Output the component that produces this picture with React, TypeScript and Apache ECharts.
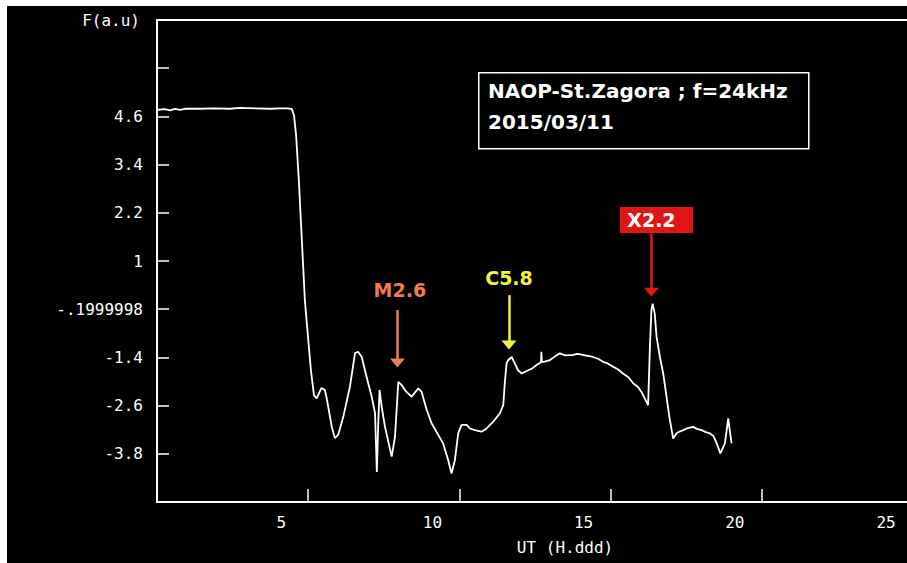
import React, { useEffect, useRef } from "react";
import * as echarts from "echarts";

// ---- data ----
const utHours = [
  0.0, 0.26, 0.43, 0.6, 0.76, 0.93, 1.42, 1.92, 2.41, 2.74, 3.24, 3.74, 4.07, 4.33, 4.46, 4.53, 4.6, 4.69, 4.79, 4.89,
  4.96, 5.09, 5.19, 5.28, 5.44, 5.55, 5.61, 5.78, 5.88, 5.99, 6.16, 6.38, 6.55, 6.65, 6.77, 6.93, 7.1, 7.21, 7.27, 7.32,
  7.36, 7.43, 7.54, 7.76, 7.87, 7.98, 8.09, 8.25, 8.42, 8.64, 8.75, 8.92, 9.08, 9.3, 9.46, 9.63, 9.74, 9.85, 9.96, 10.07,
  10.24, 10.35, 10.51, 10.73, 10.9, 11.12, 11.34, 11.45, 11.5, 11.56, 11.61, 11.73, 11.83, 11.94, 12.06, 12.27, 12.4,
  12.55, 12.7, 12.71, 12.73, 12.85, 12.99, 13.15, 13.32, 13.5, 13.76, 13.9, 14.09, 14.25, 14.42, 14.6, 14.75, 14.9,
  15.08, 15.25, 15.41, 15.6, 15.75, 15.9, 16.02, 16.24, 16.3, 16.35, 16.39, 16.46, 16.52, 16.63, 16.74, 16.85, 16.96,
  17.07, 17.18, 17.3, 17.4, 17.55, 17.73, 17.85, 18.01, 18.15, 18.28, 18.4, 18.51, 18.63, 18.78, 18.89, 18.94, 19.0,
];
const amplitude = [
  4.76, 4.78, 4.75, 4.79, 4.76, 4.79, 4.79, 4.8, 4.79, 4.81, 4.8, 4.79, 4.8, 4.8, 4.78, 4.63, 4.13, 3.01, 1.52, 0.02,
  -0.6, -1.72, -2.34, -2.42, -2.16, -2.21, -2.41, -3.13, -3.41, -3.33, -2.88, -2.13, -1.29, -1.26, -1.39, -1.88, -2.38,
  -2.79, -4.25, -2.96, -2.21, -2.63, -3.13, -3.87, -3.38, -2.01, -2.09, -2.26, -2.38, -2.17, -2.26, -2.71, -3.04, -3.33,
  -3.54, -3.96, -4.29, -3.96, -3.29, -3.08, -3.08, -3.17, -3.21, -3.25, -3.17, -3.0, -2.79, -2.59, -2.05, -1.55, -1.47,
  -1.39, -1.55, -1.72, -1.8, -1.72, -1.68, -1.59, -1.52, -1.26, -1.52, -1.5, -1.47, -1.38, -1.3, -1.35, -1.34, -1.31,
  -1.34, -1.36, -1.39, -1.44, -1.51, -1.55, -1.63, -1.7, -1.8, -1.9, -2.05, -2.13, -2.26, -2.59, -1.14, -0.22, -0.06,
  -0.31, -0.89, -1.39, -1.8, -2.38, -2.96, -3.42, -3.29, -3.24, -3.21, -3.16, -3.13, -3.18, -3.21, -3.26, -3.29, -3.36,
  -3.54, -3.79, -3.54, -2.92, -3.21, -3.54,
];

const xMin = 0;
const xMax = 25;
const xStep = 5;
const xTickLabels = ["", "5", "10", "15", "20", "25"];

const yMin = -5;
const yMax = 7;
const yStep = 1.2;
const yTickLabels = ["", "-3.8", "-2.6", "-1.4", "-.1999998", "1", "2.2", "3.4", "4.6", "", ""];

const flareNames = ["M2.6", "C5.8", "X2.2"];
const flareArrowX = [7.95, 11.64, 16.35];
const flareArrowFrom = [-0.22, 0.15, 1.69];
const flareArrowTo = [-1.54, -1.09, 0.22];
const flareLabelX = [8.03, 11.64, 16.35];
const flareLabelY = [0.27, 0.57, 2.02];

const yAxisTitle = "F(a.u)";
const xAxisTitle = "UT (H.ddd)";
const infoLines = ["NAOP-St.Zagora ; f=24kHz", "2015/03/11"];

// ---- styles ----
const flareColors = ["#f07c52", "#f2f23c", "#e31414"];
const flareTextColors = ["#f07c52", "#f2f23c", "#ffffff"];
const flareBoxed = [false, false, true];
const pixelFont = "DejaVu Sans Mono";
const sansFont = "DejaVu Sans";

export default function App() {
  const ref = useRef<HTMLDivElement>(null);

  useEffect(() => {
    if (!ref.current) return;
    const chart = echarts.init(ref.current, null, { renderer: "svg" });

    const seriesData = utHours.map((x, i) => [x, amplitude[i]]);

    const option: any = {
      animation: false,
      backgroundColor: "#000000",
      grid: {
        left: 150,
        top: 14,
        right: 0,
        bottom: 61,
        show: true,
        borderColor: "#ffffff",
        borderWidth: 2,
        backgroundColor: "transparent",
      },
      xAxis: {
        type: "value",
        min: xMin,
        max: xMax,
        interval: xStep,
        name: xAxisTitle,
        nameLocation: "middle",
        nameGap: 45,
        nameTextStyle: {
          color: "#ffffff",
          fontFamily: pixelFont,
          fontSize: 16,
          verticalAlign: "middle",
          padding: [0, 0, 0, 60],
        },
        axisLine: { show: true, onZero: false, lineStyle: { color: "#ffffff", width: 2 } },
        axisTick: { show: true, inside: true, length: 13, lineStyle: { color: "#ffffff", width: 1.5 } },
        splitLine: { show: false },
        axisLabel: {
          color: "#ffffff",
          fontFamily: pixelFont,
          fontSize: 16,
          margin: 12,
          showMinLabel: true,
          showMaxLabel: true,
          padding: [0, 54, 0, 0],
          formatter: (v: number) => xTickLabels[Math.round((v - xMin) / xStep)] ?? "",
        },
      },
      yAxis: {
        type: "value",
        min: yMin,
        max: yMax,
        interval: yStep,
        name: yAxisTitle,
        nameLocation: "end",
        nameGap: 0,
        nameTextStyle: {
          color: "#ffffff",
          fontFamily: pixelFont,
          fontSize: 16,
          align: "right",
          verticalAlign: "middle",
          padding: [0, 17, 0, 0],
        },
        axisLine: { show: true, onZero: false, lineStyle: { color: "#ffffff", width: 2 } },
        axisTick: { show: true, inside: true, length: 12, lineStyle: { color: "#ffffff", width: 1.5 } },
        splitLine: { show: false },
        axisLabel: {
          color: "#ffffff",
          fontFamily: pixelFont,
          fontSize: 16,
          margin: 14,
          showMinLabel: true,
          showMaxLabel: true,
          formatter: (v: number) => yTickLabels[Math.round((v - yMin) / yStep)] ?? "",
        },
      },
      series: [
        {
          type: "line",
          data: seriesData,
          showSymbol: false,
          symbol: "none",
          lineStyle: { color: "#ffffff", width: 1.8 },
          silent: true,
          markLine: {
            silent: true,
            animation: false,
            symbol: ["none", "triangle"],
            symbolSize: [15, 9],
            label: { show: false },
            data: flareNames.map((_, i) => [
              { coord: [flareArrowX[i], flareArrowFrom[i]], lineStyle: { color: flareColors[i], width: 2.5, type: "solid" } },
              { coord: [flareArrowX[i], flareArrowTo[i]] },
            ]),
          },
          markPoint: {
            silent: true,
            animation: false,
            data: flareNames.map((name, i) => ({
              coord: [flareLabelX[i], flareLabelY[i]],
              symbol: "rect",
              symbolSize: flareBoxed[i] ? [73, 26] : [1, 1],
              symbolOffset: flareBoxed[i] ? [5, 0] : [0, 0],
              itemStyle: { color: flareBoxed[i] ? flareColors[i] : "rgba(0,0,0,0)" },
              label: {
                show: true,
                position: "inside",
                offset: flareBoxed[i] ? [-5, 0] : [0, 0],
                formatter: name,
                color: flareTextColors[i],
                fontFamily: sansFont,
                fontWeight: "bold",
                fontSize: 19,
              },
            })),
          },
        },
      ],
      graphic: [
        {
          type: "rect",
          left: 471,
          top: 66,
          shape: { width: 330, height: 76 },
          style: { fill: "#000000", stroke: "#ffffff", lineWidth: 1.5 },
          z: 10,
        },
        {
          type: "text",
          left: 481,
          top: 75,
          style: { text: infoLines[0], fill: "#ffffff", font: `bold 20px "${sansFont}"` },
          z: 11,
        },
        {
          type: "text",
          left: 481,
          top: 106,
          style: { text: infoLines[1], fill: "#ffffff", font: `bold 20px "${sansFont}"` },
          z: 11,
        },
      ],
    };

    chart.setOption(option);
    return () => chart.dispose();
  }, []);

  return (
    <div style={{ position: "fixed", left: 0, top: 0, width: 907, height: 563, background: "#ffffff", overflow: "hidden" }}>
      <div ref={ref} style={{ position: "absolute", left: 7, top: 6, width: 906, height: 557 }} />
    </div>
  );
}
